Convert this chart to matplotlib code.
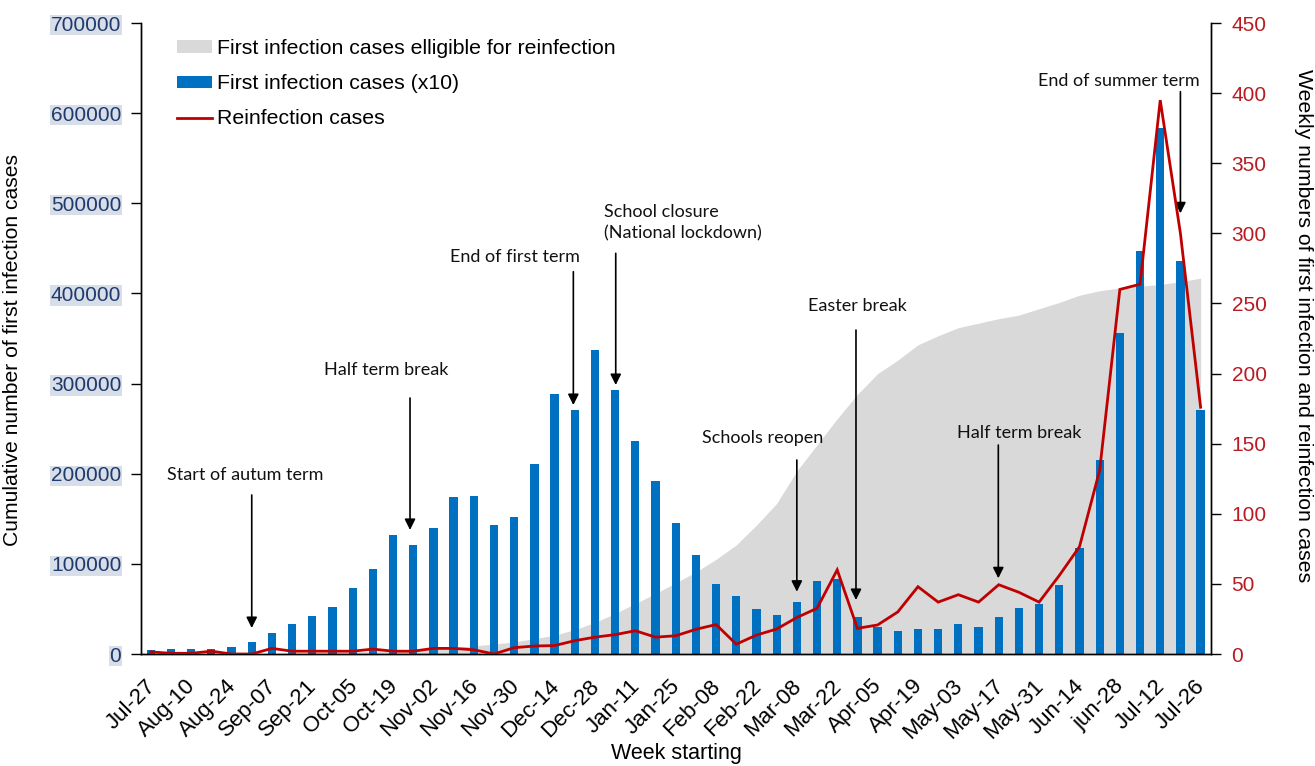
import matplotlib
matplotlib.use("Agg")
import matplotlib.pyplot as plt
import matplotlib.transforms as mtransforms
from matplotlib.patches import Patch
from matplotlib.lines import Line2D
import numpy as np

weeks = ["Jul-27", "Aug-03", "Aug-10", "Aug-17", "Aug-24", "Aug-31", "Sep-07", "Sep-14",
         "Sep-21", "Sep-28", "Oct-05", "Oct-12", "Oct-19", "Oct-26", "Nov-02", "Nov-09",
         "Nov-16", "Nov-23", "Nov-30", "Dec-07", "Dec-14", "Dec-21", "Dec-28", "Jan-04",
         "Jan-11", "Jan-18", "Jan-25", "Feb-01", "Feb-08", "Feb-15", "Feb-22", "Mar-01",
         "Mar-08", "Mar-15", "Mar-22", "Mar-29", "Apr-05", "Apr-12", "Apr-19", "Apr-26",
         "May-03", "May-10", "May-17", "May-24", "May-31", "Jun-07", "Jun-14", "Jun-21",
         "jun-28", "Jul-05", "Jul-12", "Jul-19", "Jul-26"]

first_x10 = [4500, 5000, 6000, 6000, 8000, 13500, 23000, 33000, 42000, 52000, 73000,
             94000, 132000, 120500, 140000, 174000, 175000, 143000, 152000, 211000,
             288000, 270500, 337000, 292500, 236000, 191500, 145700, 110000, 77700,
             64000, 49600, 43600, 57300, 80700, 83200, 40700, 30300, 25900, 27400,
             27400, 33000, 30300, 40700, 51000, 55500, 76200, 117300, 215000, 356600,
             447300, 583400, 436500, 270800]

eligible = [0, 0, 0, 0, 0, 0, 500, 1000, 1500, 2000, 2500, 3000, 4000, 5000, 6000,
            7500, 9000, 11000, 13500, 17000, 21000, 27000, 35000, 45000, 56000, 67000,
            79000, 91000, 105000, 121000, 143000, 167000, 203000, 232000, 261000,
            288000, 311000, 326000, 343000, 353000, 362000, 367000, 372000, 376000,
            383000, 390000, 398000, 403000, 406000, 408000, 410000, 413000, 417000]

reinfections = [1.5, 0.5, 0.5, 2, 0, 0, 4, 2, 2, 2, 2, 3.5, 2, 2, 4, 4, 3, 0, 4.5, 5.7,
                6, 9.5, 12, 13.8, 16.6, 12, 13, 17.6, 21, 7, 13.5, 17.8, 26, 32.6, 60,
                18.3, 20.7, 30, 48, 37, 42.3, 37, 49.4, 44, 37, 56, 76.5, 131, 260,
                263.7, 395, 300, 176]

left_ticks = [0, 100000, 200000, 300000, 400000, 500000, 600000, 700000]
right_ticks = [0, 50, 100, 150, 200, 250, 300, 350, 400, 450]

# annotations: (text, text_x, text_y, ha, arrow_x, arrow_tail_y, arrow_tip_y)
events = [
    ("Start of autum term", 4.67, 198600, "center", 5.0, 176400, 28800),
    ("Half term break", 11.68, 315000, "center", 12.84, 284000, 137600),
    ("End of first term", 18.04, 440800, "center", 20.93, 424100, 276200),
    ("School closure\n(National lockdown)", 22.45, 478300, "left", 23.03, 444500, 298400),
    ("Schools reopen", 30.30, 239600, "center", 32.0, 215200, 69100),
    ("Easter break", 34.98, 386000, "center", 34.93, 359400, 59900),
    ("Half term break", 42.99, 245500, "center", 41.98, 231800, 84000),
    ("End of summer term", 47.96, 635600, "center", 51.0, 623800, 488900),
]

BLUE = "#0070C0"
RED = "#C00000"
GRAY = "#D9D9D9"
TICK_FONT = "Liberation Sans"
ANN_FONT = "Lato"
W, H = 1315, 766

fig = plt.figure(figsize=(W / 100, H / 100), dpi=100)
ax = fig.add_axes([140.7 / W, 1 - 654 / H, (1210.7 - 140.7) / W, (654 - 23) / H])
ax2 = ax.twinx()

x = np.arange(len(weeks))
ax.fill_between(x, 0, eligible, color=GRAY, linewidth=0, zorder=1)
ax.bar(x, first_x10, width=0.41, color=BLUE, zorder=2)
ax2.plot(x, reinfections, color=RED, lw=2.0, zorder=3, solid_joinstyle="miter")

ax.set_xlim(-0.5, 52.5)
ax.set_ylim(0, 700000)
ax2.set_ylim(0, 450)
ax.set_yticks(left_ticks)
ax.set_yticklabels([str(t) for t in left_ticks], fontfamily=TICK_FONT, fontsize=15,
                   color="#1F3A6E")
for lab in ax.get_yticklabels():
    lab.set_bbox(dict(facecolor="#D8DEE8", edgecolor="none", pad=0.5))
ax2.set_yticks(right_ticks)
ax2.set_yticklabels([str(t) for t in right_ticks], fontfamily=TICK_FONT, fontsize=15,
                    color="#B81C22")

ax.set_xticks(x[::2])
ax.set_xticklabels(weeks[::2], rotation=45, ha="right", va="top", rotation_mode="anchor",
                   fontfamily=TICK_FONT, fontsize=16)
ax.tick_params(axis="x", length=0, pad=14)
offset = mtransforms.ScaledTranslation(-6 / 100, -2 / 100, fig.dpi_scale_trans)
for lab in ax.get_xticklabels():
    lab.set_transform(lab.get_transform() + offset)
ax.tick_params(axis="y", length=7, width=1, pad=7, direction="out")
ax2.tick_params(axis="y", length=7, width=1, pad=8, direction="out")

for a in (ax, ax2):
    a.spines["top"].set_visible(False)
    for s in ("left", "right", "bottom"):
        a.spines[s].set_linewidth(1.0)
        a.spines[s].set_color("black")

fig.text(676 / W, 1 - 753 / H, "Week starting", ha="center", va="center",
         fontfamily=TICK_FONT, fontsize=15.5)
fig.text(13 / W, 1 - 350 / H, "Cumulative number of first infection cases",
         ha="center", va="center", rotation=90, fontfamily=TICK_FONT, fontsize=15.2)
fig.text(1303 / W, 1 - 326 / H, "Weekly numbers of first infection and reinfection cases",
         ha="center", va="center", rotation=270, fontfamily=TICK_FONT, fontsize=15.3)

for text, tx, ty, ha, axx, tail, tip in events:
    ax.text(tx, ty, text, ha=ha, va="center", fontfamily=ANN_FONT, fontsize=13,
            color="#111111", linespacing=1.35, zorder=5)
    ax.annotate("", xy=(axx, tip), xytext=(axx, tail),
                arrowprops=dict(arrowstyle="-|>", color="black", lw=1.2,
                                mutation_scale=16, shrinkA=0, shrinkB=0), zorder=5)

handles = [Patch(facecolor=GRAY, edgecolor="none"),
           Patch(facecolor=BLUE, edgecolor="none"),
           Line2D([0], [0], color=RED, lw=2)]
labels = ["First infection cases elligible for reinfection",
          "First infection cases (x10)", "Reinfection cases"]
fig.legend(handles, labels, loc="upper left", bbox_to_anchor=(177 / W, 1 - 39 / H),
           frameon=False, borderpad=0, borderaxespad=0, handlelength=1.66,
           handleheight=0.5, handletextpad=0.2, labelspacing=0.76,
           prop={"family": TICK_FONT, "size": 15.35})

fig.savefig("out.png", dpi=100)
